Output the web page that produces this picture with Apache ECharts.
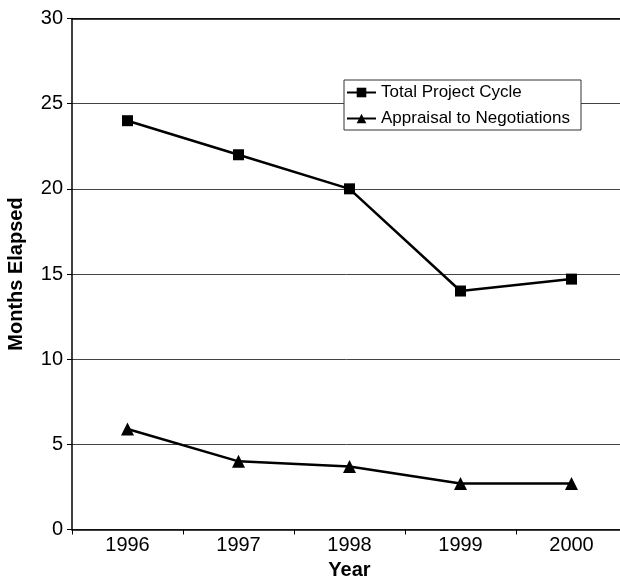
<!DOCTYPE html>
<html>
<head>
<meta charset="utf-8">
<script src="https://cdn.jsdelivr.net/npm/echarts@6/dist/echarts.min.js"></script>
<style>
  html, body { margin: 0; padding: 0; background: #fff; }
  #chart { width: 620px; height: 577px; }
</style>
</head>
<body>
<div id="chart"></div>
<script>
// Months elapsed in the project cycle, by year
const years = ['1996', '1997', '1998', '1999', '2000'];
const totalProjectCycle = [24, 22, 20, 14, 14.7];
const appraisalToNegotiations = [5.9, 4.0, 3.7, 2.7, 2.7];
const yTicks = [0, 5, 10, 15, 20, 25, 30];

const FONT = 'Liberation Sans, Arial, Helvetica, sans-serif';
const chart = echarts.init(document.getElementById('chart'), null, { renderer: 'canvas' });

chart.setOption({
  animation: false,
  backgroundColor: '#fff',
  textStyle: { fontFamily: FONT, color: '#000' },
  grid: { left: 72, top: 18.5, right: -7, bottom: 47.5, containLabel: false, outerBoundsMode: 'none' },
  legend: {
    orient: 'vertical',
    left: 344,
    top: 80,
    padding: [4, 11, 3, 2],
    itemWidth: 29,
    itemHeight: 12,
    itemGap: 9,
    backgroundColor: '#fff',
    borderColor: '#333',
    borderWidth: 1,
    textStyle: { fontFamily: FONT, fontSize: 17, color: '#000' },
    data: ['Total Project Cycle', 'Appraisal to Negotiations']
  },
  xAxis: [{
    type: 'category',
    data: years,
    boundaryGap: true,
    name: 'Year',
    nameLocation: 'middle',
    nameGap: 28,
    nameTextStyle: { fontFamily: FONT, fontSize: 20, fontWeight: 'bold', color: '#000' },
    axisLine: { lineStyle: { color: '#000', width: 1.5 } },
    axisTick: { show: true, length: 5, alignWithLabel: false, lineStyle: { color: '#000', width: 1 } },
    axisLabel: { fontFamily: FONT, fontSize: 20, color: '#000', margin: 6 },
    splitLine: { show: false }
  }, {
    type: 'category',
    data: years,
    position: 'top',
    axisLine: { lineStyle: { color: '#000', width: 1.5 } },
    axisTick: { show: false },
    axisLabel: { show: false },
    splitLine: { show: false }
  }],
  yAxis: {
    type: 'value',
    min: yTicks[0],
    max: yTicks[yTicks.length - 1],
    interval: 5,
    name: 'Months Elapsed',
    nameLocation: 'middle',
    nameGap: 46,
    nameTextStyle: { fontFamily: FONT, fontSize: 20, fontWeight: 'bold', color: '#000' },
    axisLine: { show: true, lineStyle: { color: '#000', width: 1.5 } },
    axisTick: { show: true, length: 5, lineStyle: { color: '#000', width: 1 } },
    axisLabel: { fontFamily: FONT, fontSize: 20, color: '#000', margin: 9 },
    splitLine: { show: true, lineStyle: { color: '#444', width: 1 } }
  },
  series: [{
    name: 'Total Project Cycle',
    type: 'line',
    data: totalProjectCycle,
    symbol: 'rect',
    symbolSize: 11,
    itemStyle: { color: '#000' },
    lineStyle: { color: '#000', width: 2.5 },
    z: 3
  }, {
    name: 'Appraisal to Negotiations',
    type: 'line',
    data: appraisalToNegotiations,
    symbol: 'triangle',
    symbolSize: 13,
    itemStyle: { color: '#000' },
    lineStyle: { color: '#000', width: 2.5 },
    z: 3
  }]
});
</script>
</body>
</html>
